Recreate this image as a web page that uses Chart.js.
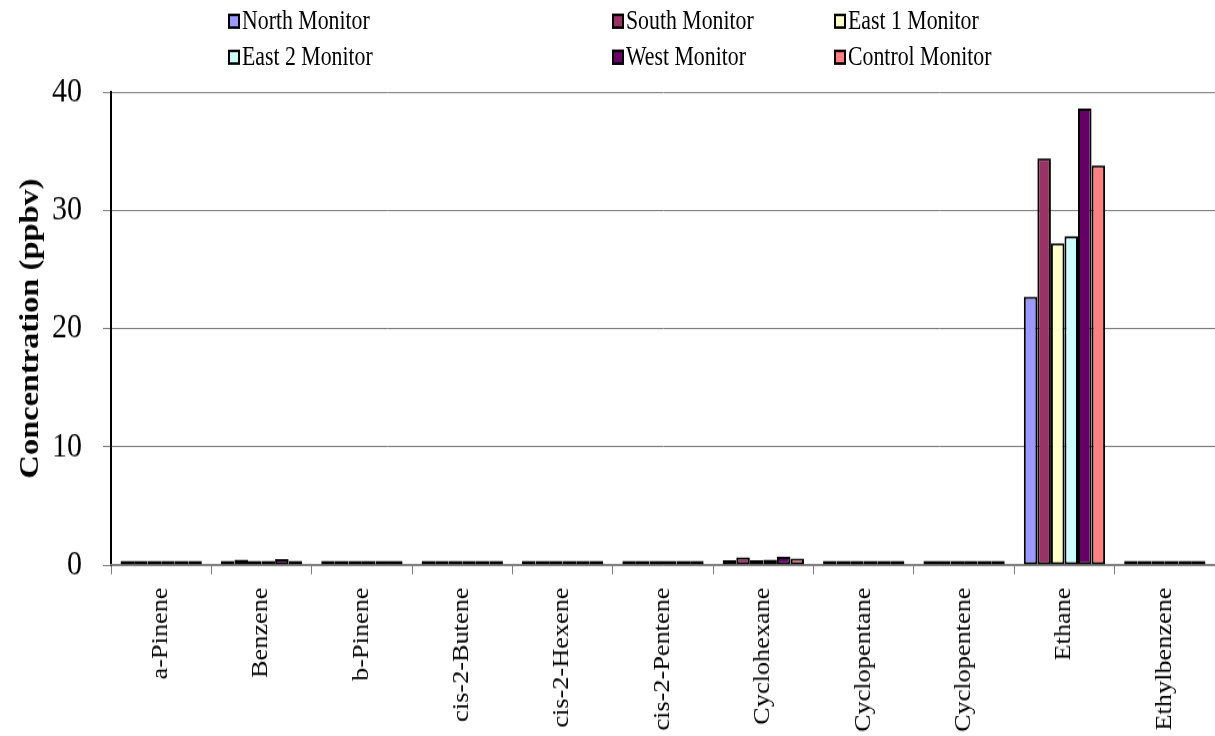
<!DOCTYPE html>
<html>
<head>
<meta charset="utf-8">
<script src="https://cdn.jsdelivr.net/npm/chart.js@4/dist/chart.umd.min.js"></script>
<style>
  body { margin: 0; background: #fff; overflow: hidden; }
  #wrap { position: relative; width: 1215px; height: 736px; overflow: hidden; }
  /* the original picture is stretched vertically, so the canvas is too */
  #stretch { position: absolute; left: 0; top: 0; width: 1215px; height: 624px; transform: scaleY(1.1795); transform-origin: 0 0; }
  #legend { position: absolute; left: 0; top: 0; font-family: "Liberation Serif", "Times New Roman", serif; font-size: 21.8px; color: #000; }
  .item { position: absolute; white-space: nowrap; line-height: 24px; transform: scaleY(1.26); transform-origin: 0 50%; }
  .box { display: inline-block; width: 8px; height: 8px; border: 2px solid #000; margin-right: 2px; vertical-align: 0px; }
</style>
</head>
<body>
<div id="wrap">
  <div id="stretch"><canvas id="chemChart" width="1215" height="624"></canvas></div>
  <div id="legend"></div>
</div>
<script>
const compounds = ["a-Pinene", "Benzene", "b-Pinene", "cis-2-Butene", "cis-2-Hexene", "cis-2-Pentene",
    "Cyclohexane", "Cyclopentane", "Cyclopentene", "Ethane", "Ethylbenzene"];

const north   = [0.20, 0.30, 0.05, 0.05, 0.05, 0.05, 0.40, 0.08, 0.15, 22.7, 0.10];
const south   = [0.10, 0.45, 0.05, 0.05, 0.05, 0.05, 0.65, 0.12, 0.15, 34.4, 0.10];
const east1   = [0.10, 0.30, 0.05, 0.05, 0.05, 0.05, 0.40, 0.12, 0.18, 27.2, 0.10];
const east2   = [0.10, 0.35, 0.05, 0.05, 0.05, 0.05, 0.45, 0.12, 0.18, 27.8, 0.10];
const west    = [0.10, 0.50, 0.05, 0.05, 0.05, 0.05, 0.70, 0.12, 0.05, 38.6, 0.10];
const control = [0.10, 0.30, 0.30, 0.05, 0.05, 0.05, 0.55, 0.10, 0.15, 33.8, 0.10];

const seriesNames = ["North Monitor", "South Monitor", "East 1 Monitor", "East 2 Monitor", "West Monitor", "Control Monitor"];
const seriesColors = ["#9999ff", "#993366", "#ffffcc", "#ccffff", "#660066", "#ff8080"];
const seriesValues = [north, south, east1, east2, west, control];
const yTicks = [0, 10, 20, 30, 40];

// legend laid out as in the original: 3 columns, 2 rows
const legendPos = [[228, 8], [612, 8], [834, 8], [228, 44], [612, 44], [834, 44]];
const legend = document.getElementById("legend");
seriesNames.forEach((name, i) => {
    const el = document.createElement("div");
    el.className = "item";
    el.style.left = legendPos[i][0] + "px";
    el.style.top = legendPos[i][1] + "px";
    el.innerHTML = '<span class="box" style="background:' + seriesColors[i] + '"></span>' + name;
    legend.appendChild(el);
});

const ctx = document.getElementById("chemChart").getContext("2d");
window.chemChart = new Chart(ctx, {
    type: "bar",
    data: {
        labels: compounds,
        datasets: seriesNames.map((name, i) => ({
            label: name,
            data: seriesValues[i],
            backgroundColor: seriesColors[i],
            borderColor: "#000",
            borderWidth: 2,
            borderSkipped: false,
            minBarLength: 3.5,
            categoryPercentage: 0.81,
            barPercentage: 1.0
        }))
    },
    options: {
        responsive: false,
        animation: false,
        devicePixelRatio: 1,
        layout: { padding: { top: 78, right: 0, left: 0, bottom: 0 } },
        scales: {
            y: {
                min: 0,
                max: 40,
                afterBuildTicks: (s) => { s.ticks = yTicks.map(v => ({ value: v })); },
                afterFit: (s) => { s.width = 111; },
                border: { color: "#000", width: 2 },
                grid: { color: "#808080", lineWidth: 1, tickLength: 8, drawTicks: true },
                ticks: { color: "#000", font: { family: "Liberation Serif", size: 30 }, padding: 21 },
                title: {
                    display: true,
                    text: "Concentration (ppbv)",
                    color: "#000",
                    font: { family: "Liberation Serif", size: 27.5, weight: "bold" },
                    padding: { top: 14, bottom: 0 }
                }
            },
            x: {
                afterFit: (s) => { s.height = 145; },
                border: { color: "#808080", width: 1.5 },
                grid: { drawOnChartArea: false, color: "#808080", tickLength: 8, offset: true },
                ticks: {
                    color: "#000",
                    minRotation: 90,
                    maxRotation: 90,
                    autoSkip: false,
                    padding: 11,
                    font: { family: "Liberation Serif", size: 22.3 }
                }
            }
        },
        plugins: {
            legend: { display: false },
            tooltip: { enabled: false }
        }
    }
});
console.log("Chart initialized:", window.chemChart.chartArea);
</script>
</body>
</html>
